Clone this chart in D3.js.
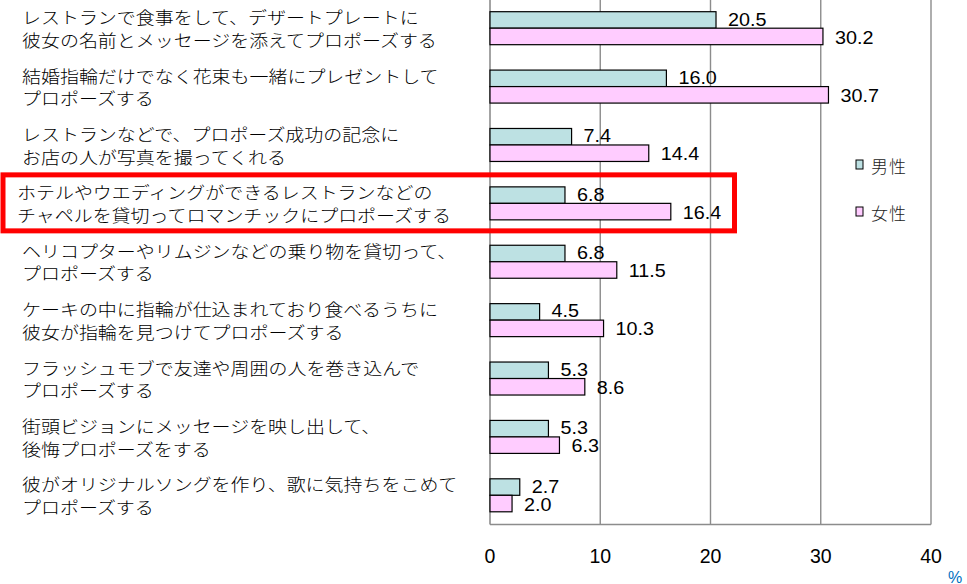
<!DOCTYPE html>
<html><head><meta charset="utf-8">
<script src="https://cdn.jsdelivr.net/npm/d3@7/dist/d3.min.js"></script>
<style>
html,body{margin:0;padding:0;background:#fff;}
svg{display:block;}
</style>
</head><body>
<svg id="chart" width="967" height="584"></svg>
<script>
const categories = [
  ["レストランで食事をして、デザートプレートに","彼女の名前とメッセージを添えてプロポーズする"],
  ["結婚指輪だけでなく花束も一緒にプレゼントして","プロポーズする"],
  ["レストランなどで、プロポーズ成功の記念に","お店の人が写真を撮ってくれる"],
  ["ホテルやウエディングができるレストランなどの","チャペルを貸切ってロマンチックにプロポーズする"],
  ["ヘリコプターやリムジンなどの乗り物を貸切って、","プロポーズする"],
  ["ケーキの中に指輪が仕込まれており食べるうちに","彼女が指輪を見つけてプロポーズする"],
  ["フラッシュモブで友達や周囲の人を巻き込んで","プロポーズする"],
  ["街頭ビジョンにメッセージを映し出して、","後悔プロポーズをする"],
  ["彼がオリジナルソングを作り、歌に気持ちをこめて","プロポーズする"]
];
const maleValues   = [20.5, 16.0, 7.4, 6.8, 6.8, 4.5, 5.3, 5.3, 2.7];
const femaleValues = [30.2, 30.7, 14.4, 16.4, 11.5, 10.3, 8.6, 6.3, 2.0];
const seriesNames = ["男性", "女性"];
const xTicks = [0, 10, 20, 30, 40];
const highlightIndex = 3;

const colors = ["#bde1e3", "#ffccff"];

const svg = d3.select("#chart");
const pLeft = 490, pRight = 931, pTop = -1, pBottom = 524.5;

const x = d3.scaleLinear().domain([0, 40]).range([pLeft, pRight]);
const y = d3.scaleBand().domain(d3.range(categories.length)).range([pTop, pBottom])
  .paddingInner(0.435).paddingOuter(0.2175);
const ySub = d3.scaleBand().domain([0, 1]).range([0, y.bandwidth()]);

// grid lines
svg.append("g").selectAll("line").data(xTicks.slice(1)).join("line")
  .attr("x1", d => x(d)).attr("x2", d => x(d))
  .attr("y1", 0).attr("y2", pBottom)
  .attr("stroke", "#8c8c8c").attr("stroke-width", 1.4);

// axis lines
svg.append("line").attr("x1", x(0)).attr("x2", x(0)).attr("y1", 0).attr("y2", pBottom)
  .attr("stroke", "#8c8c8c").attr("stroke-width", 1.6);
svg.append("line").attr("x1", x(0)).attr("x2", x(40)).attr("y1", pBottom).attr("y2", pBottom)
  .attr("stroke", "#8c8c8c").attr("stroke-width", 1.4);

// bars
const series = [maleValues, femaleValues];
series.forEach((vals, si) => {
  const g = svg.append("g");
  g.selectAll("rect").data(vals).join("rect")
    .attr("x", x(0))
    .attr("y", (d, i) => y(i) + ySub(si))
    .attr("width", d => x(d) - x(0))
    .attr("height", ySub.bandwidth())
    .attr("fill", colors[si])
    .attr("stroke", "#000").attr("stroke-width", 1.2);
  g.selectAll("text").data(vals).join("text")
    .attr("transform", (d, i) => `translate(${x(d) + 12},${y(i) + ySub(si) + ySub.bandwidth() / 2 + (si === 0 ? -0.5 : 1)}) scale(1.13,1)`)
    .attr("dominant-baseline", "central")
    .attr("font-family", "Liberation Sans, Arial, sans-serif")
    .attr("font-size", 17.5)
    .attr("fill", "#000")
    .text(d => d.toFixed(1));
});

// category labels
const lab = svg.append("g");
categories.forEach((lines, i) => {
  const cy = y(i) + y.bandwidth() / 2;
  const lx = i === highlightIndex ? 17 : 22;
  lines.forEach((t, li) => {
    lab.append("text")
      .attr("transform", `translate(${lx},${cy + (li === 0 ? -11.3 : 11.3)}) scale(1.15,1)`)
      .attr("dominant-baseline", "central")
      .attr("font-family", "Noto Sans CJK JP, sans-serif")
      .attr("font-weight", 300)
      .attr("font-size", 16.5)
      .attr("fill", "#000")
      .text(t);
  });
});

// highlight box
{
  const cy = y(highlightIndex) + y.bandwidth() / 2;
  svg.append("rect")
    .attr("x", 3).attr("y", cy - 28.5)
    .attr("width", 731.5).attr("height", 56)
    .attr("fill", "none").attr("stroke", "#ff0000").attr("stroke-width", 5);
}

// x tick labels
svg.append("g").selectAll("text").data(xTicks).join("text")
  .attr("x", d => x(d)).attr("y", 555.5)
  .attr("text-anchor", "middle").attr("dominant-baseline", "central")
  .attr("font-family", "Liberation Sans, Arial, sans-serif")
  .attr("font-size", 19.5).attr("fill", "#000")
  .text(d => d);

svg.append("text").attr("x", 955).attr("y", 577)
  .attr("text-anchor", "middle").attr("dominant-baseline", "central")
  .attr("font-family", "Liberation Sans, Arial, sans-serif")
  .attr("font-size", 16).attr("fill", "#0070c0").text("%");

// legend
const leg = svg.append("g");
seriesNames.forEach((n, i) => {
  const ly = 165 + i * 47;
  leg.append("rect").attr("x", 856).attr("y", ly - 5).attr("width", 7).attr("height", 9)
    .attr("fill", colors[i]).attr("stroke", "#000").attr("stroke-width", 1);
  leg.append("text").attr("x", 871).attr("y", ly)
    .attr("dominant-baseline", "central")
    .attr("font-family", "Noto Sans CJK JP, sans-serif")
    .attr("font-weight", 300)
    .attr("font-size", 17).attr("letter-spacing", 1).attr("fill", "#222")
    .text(n);
});
</script>
</body></html>
